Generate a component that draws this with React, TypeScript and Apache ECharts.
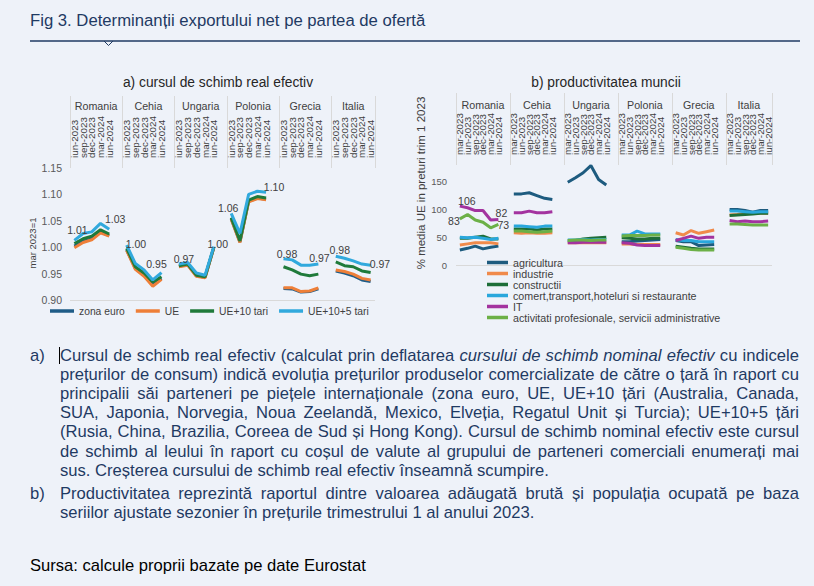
import React, { useEffect, useRef } from 'react';
import * as echarts from 'echarts';

// ---------- data ----------
const groups = ['Romania', 'Cehia', 'Ungaria', 'Polonia', 'Grecia', 'Italia'];
const reerDates = ['iun-2023', 'sep-2023', 'dec-2023', 'mar-2024', 'iun-2024'];
const prodDates = ['mar-2023', 'iun-2023', 'sep-2023', 'dec-2023', 'mar-2024', 'iun-2024'];

const reerNames = ['zona euro', 'UE', 'UE+10 tari', 'UE+10+5 tari'];
const reerZonaEuro = [
  [1.002, 1.011, 1.016, 1.029, 1.022],
  [0.995, 0.960, 0.947, 0.929, 0.941],
  [0.964, 0.967, 0.946, 0.943, 0.999],
  [1.054, 1.010, 1.087, 1.093, 1.091],
  [0.922, 0.921, 0.915, 0.916, 0.921],
  [0.955, 0.951, 0.946, 0.938, 0.935],
];
const reerUE = [
  [0.999, 1.009, 1.014, 1.027, 1.021],
  [0.994, 0.958, 0.945, 0.926, 0.939],
  [0.963, 0.966, 0.945, 0.942, 0.999],
  [1.053, 1.009, 1.086, 1.092, 1.090],
  [0.923, 0.923, 0.916, 0.917, 0.923],
  [0.957, 0.954, 0.949, 0.941, 0.938],
];
const reerUE10 = [
  [1.007, 1.016, 1.021, 1.033, 1.025],
  [0.998, 0.963, 0.951, 0.934, 0.944],
  [0.965, 0.968, 0.947, 0.944, 1.000],
  [1.056, 1.012, 1.089, 1.096, 1.093],
  [0.963, 0.957, 0.949, 0.946, 0.949],
  [0.972, 0.965, 0.963, 0.955, 0.952],
];
const reerUE105 = [
  [1.013, 1.026, 1.029, 1.045, 1.034],
  [1.004, 0.969, 0.957, 0.938, 0.952],
  [0.968, 0.971, 0.951, 0.947, 1.001],
  [1.064, 1.026, 1.100, 1.106, 1.104],
  [0.978, 0.976, 0.966, 0.966, 0.968],
  [0.983, 0.979, 0.974, 0.968, 0.966],
];

const prodNames = [
  'agricultura',
  'industrie',
  'constructii',
  'comert,transport,hoteluri si restaurante',
  'IT',
  'activitati profesionale, servicii administrative',
];
const prodAgricultura = [
  [27, 30, 34, 29, 32, 34],
  [128, 128, 130, 125, 120, 118],
  [149, 157, 166, 179, 154, 144],
  [42, 42, 43, 44, 45, 46],
  [44, 42, 42, 35, 36, 37],
  [100, 100, 98, 95, 98, 98],
];
const prodIndustrie = [
  [36, 38, 40, 40, 40, 38],
  [58, 57, 58, 57, 57, 58],
  [40, 40, 40, 40, 40, 40],
  [38, 38, 37, 37, 37, 37],
  [58, 54, 62, 57, 60, 63],
  [90, 91, 93, 94, 93, 93],
];
const prodConstructii = [
  [48, 48, 50, 52, 47, 47],
  [65, 65, 65, 63, 65, 65],
  [43, 44, 47, 48, 49, 50],
  [49, 48, 47, 47, 48, 48],
  [34, 32, 30, 29, 29, 29],
  [89, 90, 91, 92, 93, 93],
];
const prodComert = [
  [50, 49, 50, 48, 46, 48],
  [70, 70, 69, 68, 70, 70],
  [45, 45, 46, 45, 46, 46],
  [54, 54, 61, 56, 56, 56],
  [46, 44, 44, 42, 42, 42],
  [97, 97, 96, 95, 96, 96],
];
const prodIT = [
  [106, 103, 98, 98, 81, 82],
  [94, 94, 97, 94, 94, 96],
  [40, 40, 41, 41, 41, 41],
  [40, 39, 36, 35, 35, 35],
  [44, 48, 52, 48, 50, 50],
  [80, 78, 79, 78, 78, 79],
];
const prodProfesionale = [
  [83, 91, 81, 77, 67, 73],
  [61, 61, 60, 59, 60, 61],
  [44, 45, 45, 44, 45, 45],
  [52, 53, 53, 53, 54, 54],
  [32, 30, 28, 27, 27, 27],
  [74, 74, 73, 72, 72, 72],
];

// ---------- styles ----------
const reerColors = ['#1F5C87', '#EE7F38', '#1F7A3A', '#31A9DD'];
const prodColors = ['#1D5B7F', '#F08A4B', '#1E6E38', '#29A7DC', '#A3339F', '#6CB047'];
const TXT = '#404040';
const FONT = '"Liberation Sans", Arial, sans-serif';

// label placements (style only): [position, offset] for first / last point of a group
const reerLabelPlacement = [
  { first: ['top', [3, 0]], last: ['top', [6, 0]] },
  { first: ['right', [-6, -1]], last: ['top', [-5, 2]] },
  { first: ['top', [5, 5]], last: ['top', [4, 8]] },
  { first: ['top', [-3, 5]], last: ['top', [8, 5]] },
  { first: ['top', [3.5, 6]], last: ['top', [1, 4]] },
  { first: ['top', [4, 4]], last: ['right', [-6, -1]] },
];
const prodLabelPlacement: Record<number, { group: number; first: any; last: any }> = {
  4: { group: 0, first: ['top', [7, 5]], last: ['top', [3, 4]] },
  5: { group: 0, first: ['left', [5, 2]], last: ['right', [-6, 1]] },
};

// ---------- helpers ----------
function slots<T>(perGroup: T[][], blank: T): T[] {
  const out: T[] = [];
  perGroup.forEach((vals, g) => {
    out.push(...vals);
    if (g < perGroup.length - 1) out.push(blank);
  });
  return out;
}

const reerPeriod = reerDates.length + 1;
const prodPeriod = prodDates.length + 1;
const reerCats = slots(groups.map(() => reerDates), '');
const prodCats = slots(groups.map(() => prodDates), '');
const centers = (period: number, n: number) =>
  groups.map((_, g) => (g < groups.length - 1 ? g * period + period / 2 : g * period + n / 2));
const reerCenters = centers(reerPeriod, reerDates.length);
const prodCenters = centers(prodPeriod, prodDates.length);

function labelled(
  perGroup: number[][],
  period: number,
  placement: Record<number, any> | any[],
  fmt: (v: number) => string,
) {
  const flat: any[] = slots(perGroup as any[][], null);
  return flat.map((v, idx) => {
    if (v === null) return null;
    const g = Math.floor(idx / period);
    const k = idx % period;
    const p = (placement as any)[g];
    if (!p) return v;
    const n = perGroup[g].length;
    const which = k === 0 ? p.first : k === n - 1 ? p.last : null;
    if (!which) return v;
    return {
      value: v,
      label: {
        show: true,
        position: which[0],
        offset: which[1],
        formatter: () => fmt(v),
        fontSize: 10.5,
        color: TXT,
        distance: 5,
      },
    };
  });
}

function lineSeries(name: string, data: any[], color: string, xi: number, yi: number) {
  return {
    type: 'line',
    name,
    data,
    xAxisIndex: xi,
    yAxisIndex: yi,
    symbol: 'circle',
    symbolSize: 0.1,
    showSymbol: true,
    showAllSymbol: true,
    connectNulls: false,
    silent: true,
    lineStyle: { width: 3, color },
    itemStyle: { color },
    label: { show: false },
    emphasis: { disabled: true },
  };
}

const reerValues = [reerZonaEuro, reerUE, reerUE10, reerUE105];
const prodValues = [prodAgricultura, prodIndustrie, prodConstructii, prodComert, prodIT, prodProfesionale];

function buildOption() {
  const leftSeries = reerValues.map((vals, i) =>
    lineSeries(
      reerNames[i],
      i === 3 ? labelled(vals, reerPeriod, reerLabelPlacement, (v) => v.toFixed(2)) : slots(vals as any[][], null),
      reerColors[i],
      0,
      0,
    ),
  );
  const rightSeries = prodValues.map((vals, i) => {
    const pl = prodLabelPlacement[i];
    const data = pl
      ? labelled(vals, prodPeriod, { [pl.group]: pl }, (v) => String(Math.round(v)))
      : slots(vals as any[][], null);
    return lineSeries(prodNames[i], data, prodColors[i], 2, 1);
  });

  const transparent = 'rgba(0,0,0,0)';
  const dateAxis = (gridIndex: number, data: string[], period: number) => ({
    type: 'category',
    gridIndex,
    data,
    position: 'top',
    boundaryGap: true,
    axisLine: { show: false, onZero: false },
    axisTick: {
      show: true,
      interval: (i: number) => i % period === 0,
      length: 72,
      lineStyle: { color: '#D9D9D9', width: 1 },
    },
    axisLabel: { interval: 0, rotate: -90, fontSize: 9.8, margin: 10, color: TXT },
    splitLine: { show: false },
  });
  const groupAxis = (gridIndex: number, n: number, cs: number[], margin: number) => ({
    type: 'value',
    gridIndex,
    position: 'top',
    min: 0,
    max: n,
    axisLine: { show: false, onZero: false },
    axisTick: { show: false },
    splitLine: { show: false },
    axisLabel: {
      customValues: cs,
      formatter: (v: number) => {
        const i = cs.findIndex((c) => Math.abs(c - v) < 1e-6);
        return i >= 0 ? groups[i] : '';
      },
      margin,
      fontSize: 10.7,
      color: TXT,
    },
  });

  return {
    animation: false,
    textStyle: { fontFamily: FONT },
    title: [
      {
        text: 'a) cursul de schimb real efectiv',
        left: 218,
        top: 75,
        padding: 0,
        textAlign: 'center',
        textStyle: { fontSize: 13.8, fontWeight: 'normal', color: '#262626', fontFamily: FONT },
      },
      {
        text: 'b) productivitatea muncii',
        left: 606,
        top: 75,
        padding: 0,
        textAlign: 'center',
        textStyle: { fontSize: 13.8, fontWeight: 'normal', color: '#262626', fontFamily: FONT },
      },
    ],
    legend: [
      {
        data: reerNames,
        left: 50,
        top: 306,
        padding: 0,
        icon: 'rect',
        itemWidth: 24,
        itemHeight: 3.5,
        itemGap: 11,
        selectedMode: false,
        textStyle: { fontSize: 10.3, color: TXT, fontFamily: FONT },
      },
      {
        data: prodNames,
        orient: 'vertical',
        left: 487,
        top: 257,
        padding: 0,
        icon: 'rect',
        itemWidth: 21,
        itemHeight: 3.5,
        itemGap: 0,
        selectedMode: false,
        textStyle: { fontSize: 10.7, color: TXT, lineHeight: 11, fontFamily: FONT },
      },
    ],
    grid: [
      { left: 70, top: 168, width: 305, height: 132 },
      { left: 456, top: 165, width: 316, height: 100 },
    ],
    xAxis: [
      dateAxis(0, reerCats, reerPeriod),
      groupAxis(0, reerCats.length, reerCenters, 57),
      dateAxis(1, prodCats, prodPeriod),
      groupAxis(1, prodCats.length, prodCenters, 55),
    ],
    yAxis: [
      {
        type: 'value',
        gridIndex: 0,
        min: 0.9,
        max: 1.15,
        interval: 0.05,
        axisLine: { show: false },
        axisTick: { show: false },
        axisLabel: { formatter: (v: number) => v.toFixed(2), fontSize: 10.5, color: '#595959', margin: 8 },
        splitLine: {
          show: true,
          lineStyle: { color: ['#D9D9D9', transparent, transparent, transparent, transparent, transparent] },
        },
        name: 'mar 2023=1',
        nameLocation: 'middle',
        nameGap: 33,
        nameTextStyle: { fontSize: 9.5, color: TXT, padding: [0, 18, 0, 0] },
      },
      {
        type: 'value',
        gridIndex: 1,
        min: 0,
        max: 180,
        interval: 50,
        axisLine: { show: false },
        axisTick: { show: false },
        axisLabel: {
          formatter: (v: number) => (v % 50 === 0 ? String(v) : ''),
          fontSize: 9.5,
          color: '#595959',
          margin: 9,
        },
        splitLine: {
          show: true,
          lineStyle: { color: ['#D9D9D9', transparent, transparent, transparent, transparent] },
        },
        name: '% media UE in preturi trim 1 2023',
        nameLocation: 'middle',
        nameGap: 28,
        nameTextStyle: { fontSize: 11.5, color: TXT, padding: [0, 0, 0, 64] },
      },
    ],
    series: [...leftSeries, ...rightSeries],
  };
}

// ---------- text ----------
const titleText = 'Fig 3. Determinanții exportului net pe partea de ofertă';
const paraA = [
  'Cursul de schimb real efectiv (calculat prin deflatarea _cursului_ _de_ _schimb_ _nominal_ _efectiv_ cu indicele',
  'prețurilor de consum) indică evoluția prețurilor produselor comercializate de către o țară în raport cu',
  'principalii săi parteneri pe piețele internaționale (zona euro, UE, UE+10 țări (Australia, Canada,',
  'SUA, Japonia, Norvegia, Noua Zeelandă, Mexico, Elveția, Regatul Unit și Turcia); UE+10+5 țări',
  '(Rusia, China, Brazilia, Coreea de Sud și Hong Kong). Cursul de schimb nominal efectiv este cursul',
  'de schimb al leului în raport cu coșul de valute al grupului de parteneri comerciali enumerați mai',
  'sus. Creșterea cursului de schimb real efectiv înseamnă scumpire.',
];
const paraB = [
  'Productivitatea reprezintă raportul dintre valoarea adăugată brută și populația ocupată pe baza',
  'seriilor ajustate sezonier în prețurile trimestrului 1 al anului 2023.',
];
const sourceText = 'Sursa: calcule proprii bazate pe date Eurostat';

const LH = 19.2;
const FS = 16.6;
const NAVY = '#1F3A63';

function Word({ w }: { w: string }) {
  const it = w.length > 2 && w.startsWith('_') && w.endsWith('_');
  return <span style={it ? { fontStyle: 'italic' } : undefined}>{it ? w.slice(1, -1) : w}</span>;
}

function TextLine({ text, justify }: { text: string; justify: boolean }) {
  const words = text.split(' ');
  if (justify) {
    return (
      <div style={{ display: 'flex', justifyContent: 'space-between', whiteSpace: 'nowrap', height: LH }}>
        {words.map((w, i) => (
          <Word key={i} w={w} />
        ))}
      </div>
    );
  }
  return (
    <div style={{ whiteSpace: 'nowrap', height: LH }}>
      {words.map((w, i) => (
        <React.Fragment key={i}>
          {i > 0 ? ' ' : ''}
          <Word w={w} />
        </React.Fragment>
      ))}
    </div>
  );
}

function Para({ label, lines, top }: { label: string; lines: string[]; top: number }) {
  return (
    <>
      <div style={{ position: 'absolute', left: 30, top, lineHeight: `${LH}px`, fontSize: FS, color: NAVY }}>{label}</div>
      <div style={{ position: 'absolute', left: 60, top, width: 739, lineHeight: `${LH}px`, fontSize: FS, color: NAVY }}>
        {lines.map((l, i) => (
          <TextLine key={i} text={l} justify={i < lines.length - 1} />
        ))}
      </div>
    </>
  );
}

export default function App() {
  const ref = useRef<HTMLDivElement>(null);
  useEffect(() => {
    if (!ref.current) return;
    const chart = echarts.init(ref.current, undefined, { renderer: 'svg' });
    chart.setOption(buildOption() as any);
    return () => chart.dispose();
  }, []);

  return (
    <div
      style={{
        position: 'absolute',
        left: 0,
        top: 0,
        width: 814,
        height: 586,
        background: '#EEF2F9',
        fontFamily: FONT,
        overflow: 'hidden',
      }}
    >
      <div
        style={{
          position: 'absolute',
          left: 30,
          top: 10.6,
          fontSize: 16.7,
          lineHeight: `${LH}px`,
          color: NAVY,
          whiteSpace: 'nowrap',
        }}
      >
        {titleText}
      </div>
      <svg style={{ position: 'absolute', left: 0, top: 0 }} width={814} height={60}>
        <line x1={30} y1={41} x2={800} y2={41} stroke={NAVY} strokeWidth={1.3} />
        <polyline points="104,41 108.5,45.5 113,41" fill="none" stroke={NAVY} strokeWidth={1} />
      </svg>
      <div ref={ref} style={{ position: 'absolute', left: 0, top: 0, width: 814, height: 340 }} />
      <div style={{ position: 'absolute', left: 59, top: 347, width: 1, height: 17, background: '#000' }} />
      <Para label="a)" lines={paraA} top={345.6} />
      <Para label="b)" lines={paraB} top={484} />
      <div
        style={{
          position: 'absolute',
          left: 30,
          top: 555.6,
          fontSize: FS,
          lineHeight: `${LH}px`,
          color: '#000',
          whiteSpace: 'nowrap',
        }}
      >
        {sourceText}
      </div>
    </div>
  );
}
